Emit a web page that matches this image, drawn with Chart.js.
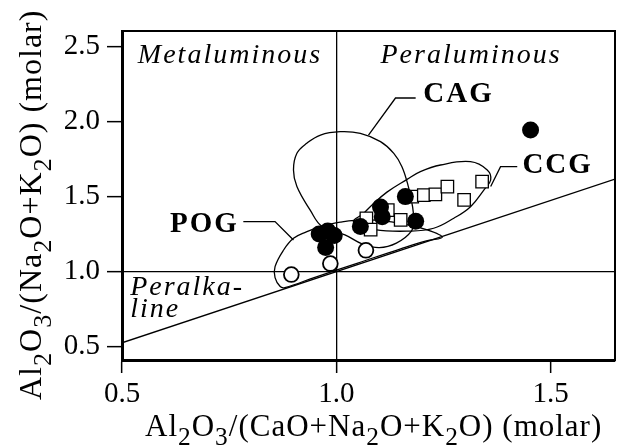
<!DOCTYPE html>
<html>
<head>
<meta charset="utf-8">
<script src="https://cdn.jsdelivr.net/npm/chart.js@4.4.1/dist/chart.umd.min.js"></script>
<style>
  html, body { margin: 0; padding: 0; background: #fff; }
  #wrap { width: 627px; height: 447px; }
</style>
</head>
<body>
<div id="wrap"><canvas id="chart" width="627" height="447"></canvas></div>
<script>
const serif = "'Liberation Serif', 'Times New Roman', serif";

// axis ticks
const xTicks = [0.5, 1.0, 1.5];
const yTicks = [0.5, 1.0, 1.5, 2.0, 2.5];

// axis titles, [text, isSubscript]
const xTitle = [['Al', 0], ['2', 1], ['O', 0], ['3', 1], ['/(CaO+Na', 0], ['2', 1], ['O+K', 0], ['2', 1], ['O) (molar)', 0]];
const yTitle = [['Al', 0], ['2', 1], ['O', 0], ['3', 1], ['/(Na', 0], ['2', 1], ['O+K', 0], ['2', 1], ['O) (molar)', 0]];

// filled circles
const filledX = [0.96, 0.98, 0.995, 0.975, 1.056, 1.103, 1.107, 1.161, 1.185, 1.453];
const filledY = [1.25, 1.27, 1.24, 1.16, 1.30, 1.43, 1.365, 1.50, 1.335, 1.945];

// open circles
const openX = [0.895, 0.986, 1.069];
const openY = [0.98, 1.053, 1.142];

// open squares
const squareX = [1.07, 1.08, 1.12, 1.15, 1.177, 1.204, 1.231, 1.259, 1.298, 1.34];
const squareY = [1.355, 1.28, 1.41, 1.345, 1.50, 1.51, 1.515, 1.567, 1.478, 1.60];

// field outlines
const cagX = [1.02, 1.06, 1.10, 1.14, 1.175, 1.18, 1.178, 1.168, 1.153, 1.134, 1.103, 1.056, 1.009, 0.963, 0.931, 0.908, 0.900, 0.908, 0.939, 0.967];
const cagY = [1.245, 1.185, 1.16, 1.19, 1.27, 1.35, 1.43, 1.567, 1.70, 1.789, 1.867, 1.922, 1.933, 1.911, 1.856, 1.789, 1.678, 1.567, 1.41, 1.30];

const ccgX = [1.04, 1.064, 1.079, 1.118, 1.165, 1.196, 1.243, 1.313, 1.352, 1.360, 1.344, 1.313, 1.274, 1.227, 1.17, 1.09];
const ccgY = [1.33, 1.389, 1.433, 1.53, 1.615, 1.667, 1.711, 1.733, 1.678, 1.611, 1.544, 1.433, 1.356, 1.289, 1.27, 1.28];

const pogX = [0.869, 0.857, 0.857, 0.877, 0.90, 0.93, 0.963, 1.009, 1.072, 1.15, 1.212, 1.247, 1.21, 1.15, 1.05, 0.95, 0.88];
const pogY = [0.90, 0.96, 1.033, 1.144, 1.222, 1.265, 1.30, 1.33, 1.345, 1.322, 1.278, 1.229, 1.205, 1.152, 1.057, 0.962, 0.893];

// boundary line
const diagX = [0.5, 1.65];
const diagY = [0.525, 1.6175];

// label leader lines
const cagLeadX = [1.185, 1.138, 1.075];
const cagLeadY = [2.158, 2.158, 1.911];
const ccgLeadX = [1.422, 1.383, 1.360];
const ccgLeadY = [1.70, 1.70, 1.567];
const pogLeadX = [0.783, 0.857, 0.900];
const pogLeadY = [1.333, 1.333, 1.211];

const labels = [
  { text: 'Metaluminous', x: 0.537, y: 2.39, font: 'italic 28px ' + serif, spacing: '2px' },
  { text: 'Peraluminous', x: 1.103, y: 2.39, font: 'italic 28px ' + serif, spacing: '2px' },
  { text: 'CAG', x: 1.203, y: 2.131, font: 'bold 29px ' + serif, spacing: '2px' },
  { text: 'CCG', x: 1.434, y: 1.658, font: 'bold 29px ' + serif, spacing: '2px' },
  { text: 'POG', x: 0.612, y: 1.267, font: 'bold 29px ' + serif, spacing: '2px' },
  { text: 'Peralka-', x: 0.519, y: 0.845, font: 'italic 28px ' + serif, spacing: '2px' },
  { text: 'line', x: 0.519, y: 0.698, font: 'italic 28px ' + serif, spacing: '2px' }
];

function pts(xs, ys) {
    return xs.map((x, i) => ({ x: x, y: ys[i] }));
}

function outline(xs, ys, closed, tension) {
    return {
        data: pts(xs, ys),
        showLine: true,
        closed: closed,
        borderColor: '#000',
        borderWidth: 1.3,
        pointRadius: 0,
        tension: tension,
        fill: false,
        order: 5
    };
}

// text with lowered subscript digits, drawn from (0,0) along the baseline
function drawFormula(ctx, parts, size, spacing) {
    let x = 0;
    ctx.letterSpacing = spacing + 'px';
    parts.forEach(([t, sub]) => {
        const s = sub ? size * 0.82 : size;
        ctx.font = s + 'px ' + serif;
        ctx.fillText(t, x, sub ? size * 0.3 : 0);
        x += ctx.measureText(t).width;
    });
}

// lets the spline run round a closed field outline
const closeLoops = {
    id: 'closeLoops',
    afterDatasetUpdate(chart, args) {
        const ds = chart.data.datasets[args.index];
        if (ds.closed) {
            args.meta.dataset._loop = true;
            args.meta.dataset._fullLoop = true;
        }
    }
};

const textLabels = {
    id: 'textLabels',
    afterDatasetsDraw(chart) {
        const { ctx, chartArea, scales } = chart;
        ctx.save();
        ctx.strokeStyle = '#000';
        ctx.lineWidth = 2;
        ctx.strokeRect(chartArea.left, chartArea.top, chartArea.right - chartArea.left, chartArea.bottom - chartArea.top);
        ctx.fillStyle = '#000';
        ctx.textAlign = 'left';
        ctx.textBaseline = 'alphabetic';
        labels.forEach(l => {
            ctx.font = l.font;
            ctx.letterSpacing = l.spacing;
            ctx.fillText(l.text, scales.x.getPixelForValue(l.x), scales.y.getPixelForValue(l.y));
        });

        // axis titles
        ctx.save();
        ctx.translate(145, 436);
        drawFormula(ctx, xTitle, 31, 1);
        ctx.restore();

        ctx.save();
        ctx.translate(41, 400);
        ctx.rotate(-Math.PI / 2);
        drawFormula(ctx, yTitle, 32, 1);
        ctx.restore();

        ctx.restore();
    }
};

const gridAtOne = c => (c.tick && c.tick.value === 1) ? '#000' : 'rgba(0,0,0,0)';

new Chart(document.getElementById('chart'), {
    type: 'scatter',
    data: {
        datasets: [
            {
                data: pts(filledX, filledY),
                pointStyle: 'circle',
                pointRadius: 8.5,
                backgroundColor: '#000',
                borderColor: '#000',
                borderWidth: 0,
                order: 0
            },
            {
                data: pts(squareX, squareY),
                pointStyle: 'rect',
                pointRadius: 8.8,
                backgroundColor: '#fff',
                borderColor: '#000',
                borderWidth: 1.3,
                order: 1
            },
            {
                data: pts(openX, openY),
                pointStyle: 'circle',
                pointRadius: 7.4,
                backgroundColor: '#fff',
                borderColor: '#000',
                borderWidth: 1.8,
                order: 2
            },
            outline(cagX, cagY, true, 0.4),
            outline(ccgX, ccgY, true, 0.4),
            outline(pogX, pogY, true, 0.4),
            outline(diagX, diagY, false, 0),
            outline(cagLeadX, cagLeadY, false, 0),
            outline(ccgLeadX, ccgLeadY, false, 0),
            outline(pogLeadX, pogLeadY, false, 0)
        ]
    },
    options: {
        responsive: false,
        animation: false,
        layout: { padding: { top: 31, right: 12, left: 0, bottom: 0 } },
        plugins: {
            legend: { display: false },
            tooltip: { enabled: false }
        },
        scales: {
            x: {
                type: 'linear',
                min: 0.5,
                max: 1.65,
                afterBuildTicks: s => { s.ticks = xTicks.map(v => ({ value: v })); },
                afterFit: s => { s.height = 87; },
                ticks: {
                    color: '#000',
                    padding: 4,
                    maxRotation: 0,
                    font: { family: serif, size: 29 },
                    callback: v => v.toFixed(1)
                },
                grid: { color: gridAtOne, lineWidth: 1.3, tickColor: '#000', tickWidth: 1.5, tickLength: 13 },
                border: { display: true, color: '#000', width: 3 }
            },
            y: {
                type: 'linear',
                min: 0.41,
                max: 2.605,
                afterBuildTicks: s => { s.ticks = yTicks.map(v => ({ value: v })); },
                afterFit: s => { s.width = 122; },
                ticks: {
                    color: '#000',
                    padding: 7,
                    font: { family: serif, size: 29 },
                    callback: v => v.toFixed(1)
                },
                grid: { color: gridAtOne, lineWidth: 1.3, tickColor: '#000', tickWidth: 1.5, tickLength: 15 },
                border: { display: true, color: '#000', width: 3 }
            }
        }
    },
    plugins: [closeLoops, textLabels]
});
</script>
</body>
</html>
